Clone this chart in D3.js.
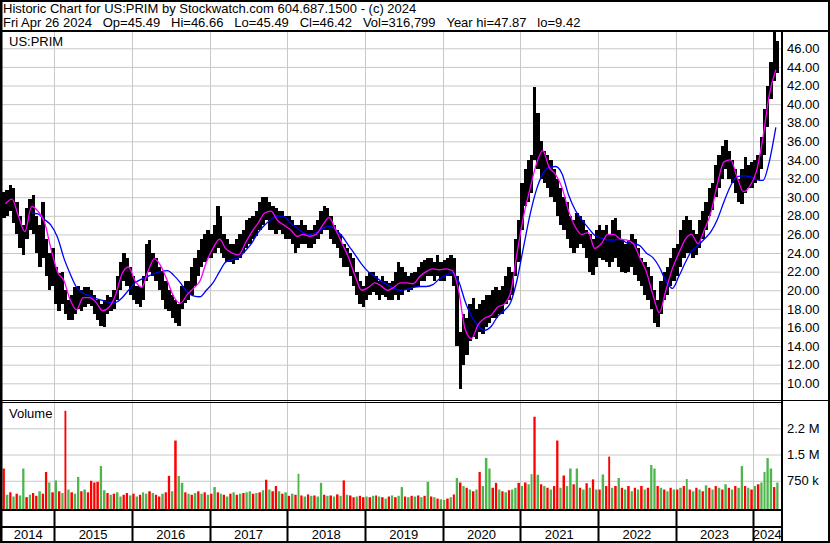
<!DOCTYPE html>
<html>
<head>
<meta charset="utf-8">
<script src="https://cdn.jsdelivr.net/npm/d3@7"></script>
<style>
  body { margin: 0; background: #fff; }
  svg { display: block; }
  text { font-family: "Liberation Sans", Arial, sans-serif; }
</style>
</head>
<body>
<div id="chart"></div>
<script>
// Header text
const title1 = "Historic Chart for US:PRIM by Stockwatch.com 604.687.1500 - (c) 2024";
const quoteFields = ["Fri Apr 26 2024", "Op=45.49", "Hi=46.66", "Lo=45.49", "Cl=46.42", "Vol=316,799", "Year hi=47.87", "lo=9.42"];
const symbol = "US:PRIM";

// Half-month price bars starting May 1 2014 (high / low)
const hi = [
  30.6,30.8,31.3,31.0,29.5,28.0,27.0,28.8,29.8,30.2,28.0,27.0,29.5,25.5,24.0,24.5,
  22.5,21.8,22.0,20.0,19.0,19.5,20.3,20.5,20.0,20.3,20.3,20.0,19.5,19.0,18.5,19.0,19.5,19.3,20.0,21.5,23.0,24.0,23.5,22.5,
  21.5,20.5,20.3,21.5,25.0,25.4,24.0,23.5,22.5,22.0,21.0,20.0,19.5,19.0,18.5,20.5,21.0,21.0,22.5,23.5,24.3,25.5,26.0,26.5,
  26.0,27.0,29.0,28.0,26.0,25.5,25.0,25.0,25.5,26.0,26.5,27.5,27.8,28.0,28.5,29.5,30.0,30.0,29.5,29.0,28.8,28.5,28.5,28.0,
  28.0,27.5,27.0,27.0,27.5,27.0,26.5,26.5,27.0,27.5,28.5,29.0,28.8,28.0,27.0,26.5,26.0,25.0,24.5,24.0,23.5,22.0,21.0,20.5,
  21.5,22.0,22.0,21.5,21.0,21.5,21.0,20.8,21.0,22.0,23.0,22.5,22.0,21.5,21.8,22.0,22.5,23.0,23.2,23.5,23.5,23.0,23.8,23.0,
  23.2,23.5,23.8,23.5,21.5,15.5,17.5,17.0,18.5,19.2,18.0,18.5,19.0,19.5,19.5,20.0,20.3,20.0,20.5,21.5,22.5,22.0,25.5,27.5,
  31.5,33.0,34.0,34.5,41.8,39.0,36.0,35.0,34.5,34.0,33.0,32.0,31.0,30.0,29.5,28.0,27.5,28.3,28.0,27.5,26.5,26.0,25.5,26.5,
  27.0,26.5,27.0,26.0,27.5,27.8,26.5,25.5,25.0,25.4,26.0,25.5,24.5,23.5,23.0,22.5,21.5,20.0,19.0,21.0,22.0,22.5,23.5,24.5,
  25.0,26.5,27.5,28.0,27.5,26.5,26.0,27.5,28.5,29.5,31.0,31.5,33.5,34.5,35.5,36.1,35.0,34.0,33.0,32.0,33.0,34.3,33.5,33.8,
  34.0,34.5,36.5,39.5,42.0,44.5,47.87,46.8
];
const lo = [
  27.8,28.0,28.5,27.2,26.0,24.5,23.8,25.5,26.5,26.0,24.0,22.5,23.5,21.5,20.0,20.5,
  18.5,17.8,18.5,17.5,16.8,16.8,17.5,18.0,17.8,18.2,18.5,18.3,17.5,16.8,16.2,16.0,17.5,17.8,18.0,19.0,20.0,21.0,20.5,19.5,
  19.0,18.5,18.2,19.0,21.0,22.0,21.5,21.0,20.0,19.0,18.0,17.8,17.0,16.5,16.2,18.0,18.6,19.0,19.5,20.5,21.5,22.5,23.0,23.5,
  23.5,24.0,24.5,24.0,23.5,23.0,23.0,22.8,23.2,23.5,24.0,24.5,25.0,25.5,25.8,26.5,27.0,27.5,26.5,26.5,26.0,26.5,26.0,25.5,
  25.5,25.0,24.0,24.5,25.0,25.0,24.5,24.5,25.0,25.5,26.0,26.5,26.5,25.5,25.0,24.5,23.5,22.5,22.5,21.5,20.5,19.5,18.5,18.2,
  19.0,19.5,19.8,19.5,19.0,19.5,19.3,19.0,19.0,19.5,19.0,19.5,20.0,19.8,20.0,20.3,20.5,21.0,21.0,21.5,21.5,21.0,21.5,21.0,
  21.0,21.5,21.5,20.5,14.0,9.42,12.0,13.0,14.5,15.0,14.8,15.5,15.3,16.0,16.5,17.0,17.0,17.5,17.5,18.5,19.0,19.5,21.5,23.0,
  26.5,29.0,29.5,30.5,34.0,33.0,32.0,31.5,31.0,30.0,29.5,28.0,27.0,26.5,25.5,24.5,24.0,24.5,25.0,24.5,23.5,22.0,21.6,22.5,
  23.5,23.2,23.0,22.5,23.0,23.5,22.5,22.0,21.8,22.0,22.5,21.6,21.0,20.5,19.5,19.0,18.0,16.5,16.0,17.5,19.0,19.5,20.5,21.0,
  21.5,22.5,23.5,24.0,24.0,23.5,23.8,24.5,25.5,26.5,28.0,28.6,30.0,31.0,32.0,33.0,32.0,31.5,30.5,29.5,29.3,30.5,31.0,31.0,
  31.5,31.8,33.0,34.5,37.5,40.5,42.5,43.3
];

// Volume per half-month slot in thousands (negative = down day, shown red)
const vol = [
  -1100,350,-420,300,-380,330,1100,-280,350,-400,-320,450,-380,-1000,700,-420,
  760,-450,400,-2750,500,-420,380,860,-450,500,-420,-750,-700,-720,1170,480,-400,350,-380,420,300,-350,-400,330,
  -380,300,-350,420,380,-450,400,-350,-300,380,-420,-890,450,-1900,890,690,-420,380,-350,400,-450,380,-420,350,
  -380,570,-420,380,-350,300,-380,420,-350,380,-400,420,450,-380,400,-420,480,-780,500,-450,-600,450,-380,420,
  -320,380,-350,950,-330,300,-360,320,-330,300,690,-350,320,-330,300,-360,320,-760,350,-330,-280,300,-320,-280,
  300,-280,320,-330,300,-280,240,-300,330,-280,320,570,-300,280,-320,300,-330,280,-320,720,-300,280,-240,220,
  200,-240,280,-360,830,-700,600,-550,500,-450,500,-1000,600,1400,1100,-550,-690,500,-450,420,-480,500,550,-690,
  600,-700,650,940,-2580,920,-650,600,-550,500,-600,-1900,550,-900,600,1100,-650,1100,-550,500,-680,550,-790,500,
  -500,930,-600,-1440,550,-600,830,-550,500,-600,450,-550,500,-600,500,-550,1200,1100,-600,550,-500,450,-550,500,
  -500,550,-600,800,-500,450,-550,500,-450,620,-550,500,-600,550,-500,650,-550,500,-600,550,1170,-600,550,-500,
  600,-650,700,1000,1400,1100,-570,700
];

// Moving averages read mid-month, May 2014 .. Apr 2024
const maFast = [
  29.3,29.8,28.0,26.3,29.0,28.5,27.3,24.5,22.0,21.0,
  19.0,17.9,19.2,19.2,18.7,17.8,18.2,19.5,21.8,22.5,
  21.0,20.3,22.0,23.4,22.6,21.0,19.3,18.6,19.5,20.2,
  21.0,23.0,24.5,25.5,24.5,24.0,23.8,25.0,26.2,27.2,
  28.3,28.5,27.5,27.0,26.5,25.8,26.0,25.8,26.0,27.0,
  27.8,26.5,25.0,23.5,21.5,20.0,20.3,20.8,20.5,20.0,
  20.3,20.8,20.8,20.7,21.5,22.0,22.3,22.2,22.3,22.1,
  20.0,15.8,14.8,16.3,17.0,17.3,18.2,18.5,19.8,24.0,
  28.0,31.0,33.5,35.0,33.2,32.4,31.0,28.5,26.8,26.0,
  26.2,24.5,25.0,26.0,26.0,25.5,25.4,25.0,23.5,22.0,
  19.5,17.6,20.0,22.3,24.0,25.5,26.0,25.0,26.5,28.4,
  31.4,33.8,34.0,32.2,30.6,31.2,32.8,36.5,41.0,43.7
];
const maSlow = [
  null,null,null,null,28.3,28.2,27.6,27.0,25.7,23.4,
  21.8,20.3,19.7,19.4,19.1,18.9,18.7,18.7,19.2,20.0,
  20.8,21.2,21.5,21.8,22.0,22.1,21.6,20.8,19.8,19.4,
  19.3,20.0,20.8,22.0,23.0,23.3,23.5,24.2,25.0,26.2,
  27.0,27.6,28.0,27.9,27.2,26.7,26.2,26.0,26.2,26.6,
  26.9,26.5,25.8,24.8,23.8,22.8,22.0,21.5,21.0,20.6,
  20.2,20.0,20.1,20.3,20.4,20.4,20.6,21.2,21.6,21.9,
  21.0,18.8,17.2,16.2,15.7,16.1,17.2,17.8,18.7,21.1,
  24.7,28.2,30.7,32.5,33.2,33.3,32.5,30.2,28.6,27.6,
  26.7,25.9,25.6,25.4,25.4,25.5,25.1,25.0,24.8,24.0,
  23.5,22.5,21.0,20.2,21.5,23.0,24.2,24.8,25.5,26.3,
  27.6,29.5,31.2,32.2,32.3,32.2,31.9,31.8,33.8,37.5
];

const priceTicks = [10,12,14,16,18,20,22,24,26,28,30,32,34,36,38,40,42,44,46];
const volTicks = [750, 1500, 2250];
const volLabels = ["750 k", "1.5 M", "2.2 M"];
const years = [2014,2015,2016,2017,2018,2019,2020,2021,2022,2023,2024];

// Layout
const W = 830, H = 543;
const plotL = 2, plotR = 781;
const priceTop = 32, priceBot = 400;
const volTop = 403, volBot = 509;

const x = d3.scaleTime()
    .domain([new Date(2015, 0, 1), new Date(2024, 0, 1)])
    .range([54.3, 753.3]);
const yPrice = d3.scaleLinear().domain([10, 46]).range([383.3, 48.3]);
const yVol = d3.scaleLinear().domain([0, 2250]).range([507, 428.3]);

const slotStart = i => new Date(2014, 4 + Math.floor(i / 2), i % 2 ? 16 : 1);
const slotEnd = i => slotStart(i + 1);
const monthMid = m => new Date(2014, 4 + m, 16);

const svg = d3.select("#chart").append("svg")
    .attr("width", W)
    .attr("height", H);

svg.append("rect").attr("width", W).attr("height", H).attr("fill", "#fff");

const defs = svg.append("defs");
defs.append("clipPath").attr("id", "pclip")
    .append("rect").attr("x", plotL).attr("y", priceTop)
    .attr("width", plotR - plotL).attr("height", priceBot - priceTop);
defs.append("clipPath").attr("id", "vclip")
    .append("rect").attr("x", plotL).attr("y", volTop)
    .attr("width", plotR - plotL).attr("height", volBot - volTop);

// Grid
const gridColor = "#c8c8c8";
const yearBounds = years.slice(1).map(y => new Date(y, 0, 1));

const pGrid = svg.append("g")
    .attr("transform", `translate(${plotR},0)`)
    .call(d3.axisLeft(yPrice).tickValues(priceTicks).tickSize(plotR - plotL).tickFormat(""));
pGrid.select(".domain").remove();
pGrid.selectAll("line").attr("stroke", gridColor);

const vGrid = svg.append("g")
    .attr("transform", `translate(${plotR},0)`)
    .call(d3.axisLeft(yVol).tickValues(volTicks).tickSize(plotR - plotL).tickFormat(""));
vGrid.select(".domain").remove();
vGrid.selectAll("line").attr("stroke", gridColor);

svg.append("g").selectAll("line")
    .data(yearBounds)
    .join("line")
    .attr("x1", d => Math.round(x(d)) + 0.5)
    .attr("x2", d => Math.round(x(d)) + 0.5)
    .attr("y1", priceTop)
    .attr("y2", volBot)
    .attr("stroke", gridColor);

// Price bars (high-low ranges)
const bars = svg.append("g")
    .attr("clip-path", "url(#pclip)")
    .attr("shape-rendering", "crispEdges");
bars.selectAll("rect")
    .data(hi)
    .join("rect")
    .attr("x", (d, i) => x(slotStart(i)))
    .attr("width", (d, i) => x(slotEnd(i)) - x(slotStart(i)) + 0.2)
    .attr("y", d => yPrice(d))
    .attr("height", (d, i) => yPrice(lo[i]) - yPrice(d))
    .attr("fill", "#000");

// Moving averages
const maLine = d3.line()
    .defined(d => d != null)
    .x((d, i) => x(monthMid(i)))
    .y(d => yPrice(d))
    .curve(d3.curveMonotoneX);

const lines = svg.append("g").attr("clip-path", "url(#pclip)");
lines.append("path")
    .attr("d", maLine(maSlow))
    .attr("fill", "none")
    .attr("stroke", "#0000ff")
    .attr("stroke-width", 1.3);
lines.append("path")
    .attr("d", maLine(maFast))
    .attr("fill", "none")
    .attr("stroke", "#ff00ff")
    .attr("stroke-width", 1.3);

// Volume bars
svg.append("g").attr("clip-path", "url(#vclip)")
    .selectAll("rect")
    .data(vol)
    .join("rect")
    .attr("x", (d, i) => x(slotStart(i)) + 0.4)
    .attr("width", (d, i) => x(slotEnd(i)) - x(slotStart(i)) - 0.9)
    .attr("y", d => yVol(Math.abs(d)))
    .attr("height", d => volBot - yVol(Math.abs(d)))
    .attr("fill", d => d < 0 ? "#ff0000" : "#4cb54c");

// Frame lines
const frame = svg.append("g").attr("fill", "#000");
frame.append("rect").attr("x", 0).attr("y", 0).attr("width", W).attr("height", 2);
frame.append("rect").attr("x", 0).attr("y", 0).attr("width", 2.5).attr("height", H);
frame.append("rect").attr("x", 828).attr("y", 0).attr("width", 2).attr("height", H);
frame.append("rect").attr("x", 0).attr("y", 30).attr("width", W).attr("height", 2);
frame.append("rect").attr("x", plotR).attr("y", 30).attr("width", 2).attr("height", H - 30);
frame.append("rect").attr("x", 0).attr("y", 400).attr("width", W).attr("height", 1);
frame.append("rect").attr("x", 0).attr("y", 402).attr("width", plotR).attr("height", 1);
frame.append("rect").attr("x", 0).attr("y", volBot).attr("width", plotR + 1).attr("height", 2);
frame.append("rect").attr("x", 0).attr("y", 526).attr("width", plotR + 1).attr("height", 2);
frame.append("rect").attr("x", 0).attr("y", 541).attr("width", W).attr("height", 2);
frame.selectAll(".sep")
    .data(yearBounds)
    .join("rect")
    .attr("class", "sep")
    .attr("x", d => Math.round(x(d)) - 0.5)
    .attr("y", volBot)
    .attr("width", 2)
    .attr("height", 541 - volBot);

// Year labels centred in their cells
const cellEdges = [plotL].concat(yearBounds.map(d => x(d)), [plotR]);
svg.append("g").selectAll("text")
    .data(years)
    .join("text")
    .attr("x", (d, i) => (cellEdges[i] + cellEdges[i + 1]) / 2)
    .attr("y", 539)
    .attr("text-anchor", "middle")
    .attr("font-size", 13)
    .text(d => d);

// Right axes
const pAxis = svg.append("g")
    .attr("transform", `translate(${plotR + 1},0)`)
    .call(d3.axisRight(yPrice).tickValues(priceTicks).tickSize(0).tickPadding(5).tickFormat(d3.format(".2f")));
pAxis.select(".domain").remove();
pAxis.attr("font-family", null).attr("font-size", null);
pAxis.selectAll("text").attr("font-size", 13).attr("fill", "#000");

const vAxis = svg.append("g")
    .attr("transform", `translate(${plotR + 1},0)`)
    .call(d3.axisRight(yVol).tickValues(volTicks).tickSize(0).tickPadding(5).tickFormat((d, i) => volLabels[i]));
vAxis.select(".domain").remove();
vAxis.attr("font-family", null).attr("font-size", null);
vAxis.selectAll("text").attr("font-size", 13).attr("fill", "#000");

// Header and panel labels (quote fields are separated by a wide gap)
svg.append("text").attr("x", 3).attr("y", 13).attr("font-size", 13).text(title1);
svg.append("text").attr("x", 3).attr("y", 27).attr("font-size", 13)
    .text(quoteFields.join("\u00a0\u00a0\u00a0"));
svg.append("text").attr("x", 9).attr("y", 46).attr("font-size", 13).text(symbol);
svg.append("text").attr("x", 9).attr("y", 418).attr("font-size", 13).text("Volume");
</script>
</body>
</html>
